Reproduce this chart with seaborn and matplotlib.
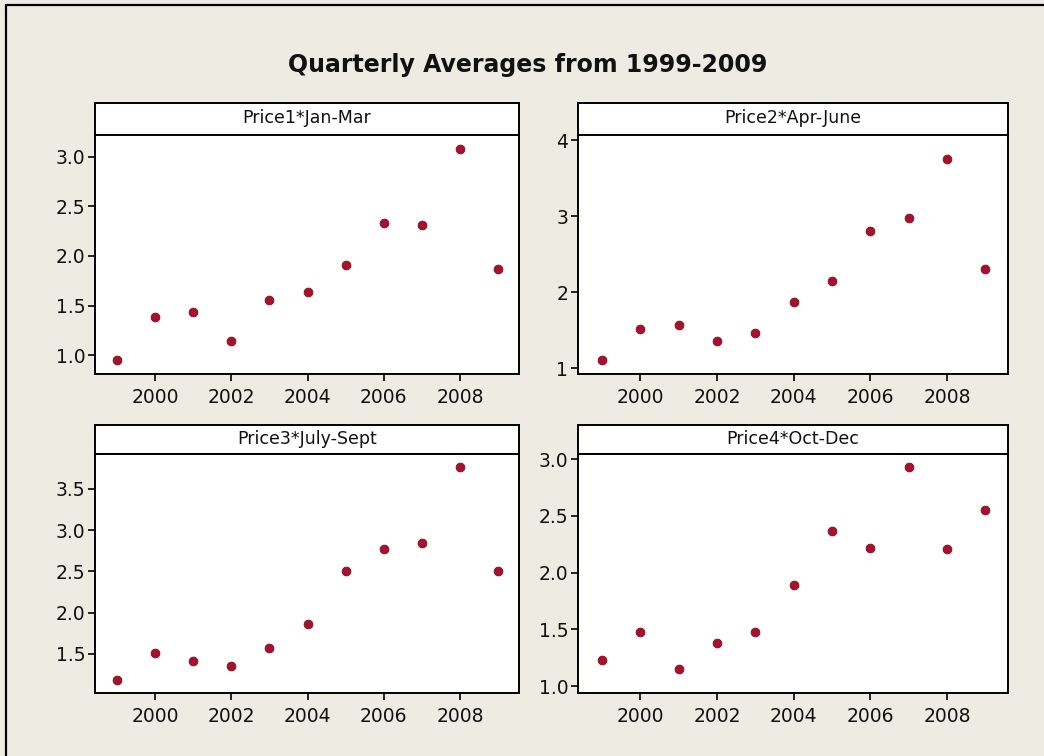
import matplotlib
matplotlib.use("Agg")
import matplotlib.pyplot as plt
from matplotlib.lines import Line2D
import numpy as np
import pandas as pd
import seaborn as sns

# Quarterly average prices, 1999-2009
years = list(range(1999, 2010))
price1_jan_mar = [0.95, 1.38, 1.44, 1.14, 1.56, 1.64, 1.91, 2.33, 2.31, 3.08, 1.87]
price2_apr_june = [1.11, 1.51, 1.57, 1.36, 1.46, 1.87, 2.15, 2.81, 2.97, 3.75, 2.31]
price3_july_sept = [1.19, 1.51, 1.41, 1.36, 1.57, 1.86, 2.51, 2.77, 2.84, 3.77, 2.51]
price4_oct_dec = [1.23, 1.48, 1.15, 1.38, 1.48, 1.89, 2.37, 2.22, 2.93, 2.21, 2.55]

panel_titles = ["Price1*Jan-Mar", "Price2*Apr-June", "Price3*July-Sept", "Price4*Oct-Dec"]
year_ticks = [2000, 2002, 2004, 2006, 2008]
y_ticks = [
    [1.0, 1.5, 2.0, 2.5, 3.0],
    [1, 2, 3, 4],
    [1.5, 2.0, 2.5, 3.0, 3.5],
    [1.0, 1.5, 2.0, 2.5, 3.0],
]
y_fmt = ["{:.1f}", "{:.0f}", "{:.1f}", "{:.1f}"]

series = [price1_jan_mar, price2_apr_june, price3_july_sept, price4_oct_dec]
df = pd.concat(
    [pd.DataFrame({"Year": years, "Price": vals, "Panel": t}) for t, vals in zip(panel_titles, series)],
    ignore_index=True,
)

sns.set_theme(style="white")
plt.rcParams["font.family"] = ["DejaVu Sans"]

W, H = 1044, 756
BG = "#EEEBE2"
MARK = "#A8102C"
fig = plt.figure(figsize=(W / 100, H / 100), dpi=100, facecolor=BG)


def box(left, top, right, bottom):
    return [left / W, 1 - bottom / H, (right - left) / W, (bottom - top) / H]


# Frame lines along the left and top edges
fig.add_artist(Line2D([6 / W, 6 / W], [0, 1 - 5 / H], color="black", lw=1.6, transform=fig.transFigure))
fig.add_artist(Line2D([6 / W, 1], [1 - 5 / H, 1 - 5 / H], color="black", lw=1.6, transform=fig.transFigure))

fig.text(528 / W, 1 - 65 / H, "Quarterly Averages from 1999-2009", ha="center", va="center",
         fontsize=17, fontweight="bold", color="#111111")

# (left, right, header_top, plot_top, plot_bottom)
cells = [
    (95, 519, 103, 135, 374),
    (578, 1008, 103, 135, 374),
    (95, 519, 425, 454, 693),
    (578, 1008, 425, 454, 693),
]
x_limits = [(1998.42, 2009.55), (1998.37, 2009.59), (1998.42, 2009.55), (1998.37, 2009.59)]
y_limits = [(0.81, 3.22), (0.925, 4.066), (1.027, 3.924), (0.941, 3.044)]

for i, (title, (l, r, ht, pt, pb)) in enumerate(zip(panel_titles, cells)):
    # Strip header
    hax = fig.add_axes(box(l, ht, r, pt))
    hax.set_facecolor("white")
    hax.set_xticks([])
    hax.set_yticks([])
    for s in hax.spines.values():
        s.set_color("black")
        s.set_linewidth(1.4)
    hax.text(0.5, 0.52, title, ha="center", va="center", fontsize=12.5, color="#111111",
             transform=hax.transAxes)

    ax = fig.add_axes(box(l, pt, r, pb))
    sub = df[df["Panel"] == title]
    sns.scatterplot(data=sub, x="Year", y="Price", ax=ax, color=MARK, s=40,
                    edgecolor="#7a1020", linewidth=0.6, legend=False, zorder=3)
    ax.set_facecolor("white")
    ax.set_xlim(*x_limits[i])
    ax.set_ylim(*y_limits[i])
    ax.set_xticks(year_ticks)
    ax.set_xticklabels([str(y) for y in year_ticks])
    ax.set_yticks(y_ticks[i])
    ax.set_yticklabels([y_fmt[i].format(v) for v in y_ticks[i]])
    ax.set_xlabel("")
    ax.set_ylabel("")
    for s in ax.spines.values():
        s.set_color("black")
        s.set_linewidth(1.4)
    ax.tick_params(axis="both", which="major", direction="out", length=5, width=1.2,
                   color="black", labelsize=13.5, labelcolor="#111111", pad=2,
                   bottom=True, left=True, top=False, right=False)
    ax.tick_params(axis="x", pad=5)

fig.savefig("out.png", dpi=100, facecolor=BG)
